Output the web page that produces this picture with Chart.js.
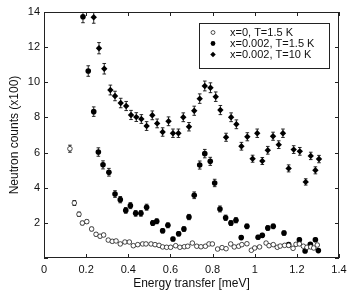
<!DOCTYPE html>
<html>
<head>
<meta charset="utf-8">
<script src="https://cdn.jsdelivr.net/npm/chart.js@4/dist/chart.umd.min.js"></script>
<style>
  html, body { margin: 0; padding: 0; background: #fff; }
  #wrap { width: 354px; height: 299px; }
</style>
</head>
<body>
<div id="wrap"><canvas id="countsChart"></canvas></div>
<script>
// x=0, T=1.5 K (open circles)
const openX = [0.123,0.144,0.166,0.182,0.203,0.226,0.247,0.266,0.283,0.305,0.324,0.342,0.362,0.384,0.405,0.424,0.445,0.468,0.484,0.508,
  0.527,0.546,0.563,0.582,0.601,0.625,0.645,0.666,0.682,0.704,0.725,0.745,0.766,0.783,0.799,0.824,0.845,0.864,0.886,0.903,
  0.924,0.939,0.963,0.984,1.0,1.023,1.054,1.068,1.088,1.107,1.121,1.142,1.161,1.182,1.196,1.212,1.231,1.248,1.266,1.28,1.297];
const openY = [6.22,3.13,2.49,1.99,2.07,1.65,1.35,1.24,1.31,1.02,0.95,0.97,0.80,0.91,0.91,0.70,0.76,0.80,0.80,0.80,
  0.76,0.72,0.63,0.61,0.61,0.70,0.61,0.64,0.67,0.85,0.67,0.64,0.67,0.80,0.80,0.51,0.59,0.53,0.80,0.63,
  0.67,0.76,0.81,0.44,0.57,0.63,0.85,0.70,0.76,0.61,0.68,0.72,0.72,0.55,0.78,0.80,0.67,0.61,0.63,0.57,0.74];
const openErr = [0.2,0.14,0.12,0.1,0.1,0.1,0.09,0.09,0.09,0.08,0.08,0.08,0.08,0.08,0.08,0.07,0.07,0.08,0.08,0.08,
  0.07,0.07,0.07,0.07,0.07,0.07,0.07,0.07,0.07,0.08,0.07,0.07,0.07,0.08,0.08,0.06,0.07,0.06,0.08,0.07,
  0.07,0.07,0.08,0.06,0.07,0.07,0.08,0.07,0.07,0.07,0.07,0.07,0.07,0.06,0.08,0.08,0.07,0.07,0.07,0.07,0.07];

// x=0.002, T=1.5 K (filled circles)
const fillX = [0.185,0.21,0.236,0.258,0.28,0.308,0.337,0.362,0.388,0.41,0.435,0.46,0.487,0.516,0.535,0.563,0.588,0.612,0.639,0.664,
  0.688,0.713,0.739,0.763,0.789,0.81,0.835,0.862,0.887,0.911,0.936,0.963,1.016,1.036,1.062,1.088,1.139,1.161,1.212,1.239,
  1.264,1.288,1.302];
const fillY = [13.73,10.64,8.33,6.03,5.3,4.88,3.64,3.32,2.71,2.98,2.54,2.54,2.89,1.99,2.09,1.55,1.86,1.08,1.38,1.65,
  2.33,3.57,5.29,5.94,5.5,4.27,2.79,2.29,1.99,2.15,1.16,1.8,1.18,1.29,1.71,1.8,1.42,0.76,1.04,0.4,
  0.78,1.04,0.42];
const fillErr = [0.34,0.3,0.27,0.24,0.23,0.22,0.19,0.18,0.16,0.17,0.16,0.16,0.17,0.14,0.14,0.12,0.14,0.1,0.12,0.13,
  0.15,0.19,0.23,0.24,0.23,0.21,0.17,0.15,0.14,0.15,0.11,0.13,0.11,0.11,0.13,0.13,0.12,0.09,0.1,0.06,
  0.09,0.1,0.06];

// x=0.002, T=10 K (diamonds)
const diaX = [0.236,0.261,0.286,0.315,0.337,0.364,0.39,0.413,0.438,0.462,0.487,0.514,0.537,0.563,0.591,0.612,0.638,0.661,0.688,0.713,
  0.739,0.763,0.79,0.815,0.837,0.864,0.888,0.913,0.937,0.965,0.99,1.012,1.036,1.062,1.087,1.114,1.134,1.161,1.185,1.214,
  1.242,1.266,1.288,1.305];
const diaY = [13.7,11.94,10.77,9.56,9.22,8.82,8.65,8.14,8.02,7.91,7.51,8.12,7.66,7.17,7.78,7.1,7.1,8.01,7.47,8.38,
  9.07,9.79,9.69,9.18,8.42,6.87,8.01,7.61,6.36,6.9,5.65,7.1,5.52,6.13,6.93,6.45,7.1,5.1,6.17,6.07,
  4.33,5.81,4.99,5.63];
const diaErr = [0.34,0.32,0.3,0.28,0.27,0.27,0.26,0.26,0.25,0.25,0.25,0.25,0.25,0.24,0.25,0.24,0.24,0.25,0.24,0.26,
  0.27,0.28,0.28,0.27,0.26,0.23,0.25,0.25,0.22,0.23,0.2,0.24,0.2,0.22,0.23,0.22,0.24,0.2,0.22,0.22,
  0.18,0.21,0.2,0.21];

const seriesLabels = ['x=0, T=1.5 K', 'x=0.002, T=1.5 K', 'x=0.002, T=10 K'];

const xTicks = [0, 0.2, 0.4, 0.6, 0.8, 1, 1.2, 1.4];
const yTicks = [0, 2, 4, 6, 8, 10, 12, 14];

const FONT = '"Liberation Sans", Arial, Helvetica, sans-serif';
Chart.defaults.font.family = FONT;
Chart.defaults.color = '#111';

function toPoints(xs, ys) {
    return xs.map((x, i) => ({ x: x, y: ys[i] }));
}

// vertical error bars with small caps
const errorBars = {
    id: 'errorBars',
    beforeDatasetsDraw(chart) {
        const ctx = chart.ctx;
        const yScale = chart.scales.y;
        const area = chart.chartArea;
        ctx.save();
        ctx.beginPath();
        ctx.rect(area.left, area.top, area.right - area.left, area.bottom - area.top);
        ctx.clip();
        ctx.strokeStyle = '#111';
        ctx.lineWidth = 0.9;
        chart.data.datasets.forEach((ds, di) => {
            const meta = chart.getDatasetMeta(di);
            ds.errors.forEach((e, i) => {
                const el = meta.data[i];
                const y1 = yScale.getPixelForValue(ds.data[i].y + e);
                const y2 = yScale.getPixelForValue(ds.data[i].y - e);
                ctx.beginPath();
                ctx.moveTo(el.x, y1); ctx.lineTo(el.x, y2);
                ctx.moveTo(el.x - 1.8, y1); ctx.lineTo(el.x + 1.8, y1);
                ctx.moveTo(el.x - 1.8, y2); ctx.lineTo(el.x + 1.8, y2);
                ctx.stroke();
            });
        });
        ctx.restore();
    }
};

// box around the plot, inward ticks on all four sides
const frame = {
    id: 'frame',
    afterDraw(chart) {
        const ctx = chart.ctx;
        const a = chart.chartArea;
        const xs = chart.scales.x, ys = chart.scales.y;
        const len = 4;
        ctx.save();
        ctx.strokeStyle = '#222';
        ctx.lineWidth = 1;
        ctx.strokeRect(a.left + 0.5, a.top + 0.5, a.right - a.left - 1, a.bottom - a.top - 1);
        ctx.beginPath();
        xTicks.forEach(v => {
            const px = Math.round(xs.getPixelForValue(v)) + 0.5;
            ctx.moveTo(px, a.bottom); ctx.lineTo(px, a.bottom - len);
            ctx.moveTo(px, a.top); ctx.lineTo(px, a.top + len);
        });
        yTicks.forEach(v => {
            const py = Math.round(ys.getPixelForValue(v)) + 0.5;
            ctx.moveTo(a.left, py); ctx.lineTo(a.left + len, py);
            ctx.moveTo(a.right, py); ctx.lineTo(a.right - len, py);
        });
        ctx.stroke();
        ctx.restore();
    }
};

// legend box in the upper right corner
const boxLegend = {
    id: 'boxLegend',
    afterDraw(chart) {
        const ctx = chart.ctx;
        const a = chart.chartArea;
        const right = a.right - 10, top = a.top + 11;
        const w = 130, h = 45;
        ctx.save();
        ctx.fillStyle = '#fff';
        ctx.fillRect(right - w, top, w, h);
        ctx.strokeStyle = '#222';
        ctx.lineWidth = 1;
        ctx.strokeRect(right - w + 0.5, top + 0.5, w, h);
        ctx.font = '11px ' + FONT;
        ctx.textBaseline = 'middle';
        chart.data.datasets.forEach((ds, i) => {
            const y = top + 9.5 + i * 11;
            const mx = right - w + 14;
            ctx.fillStyle = ds.backgroundColor;
            ctx.strokeStyle = ds.borderColor;
            ctx.lineWidth = ds.borderWidth;
            Chart.helpers.drawPoint(ctx, {
                pointStyle: ds.pointStyle,
                radius: ds.pointRadius * 0.85,
                borderWidth: ds.borderWidth,
                rotation: 0
            }, mx, y);
            ctx.fillStyle = '#111';
            ctx.fillText(ds.label, right - w + 31, y);
        });
        ctx.restore();
    }
};

const ctx = document.getElementById('countsChart').getContext('2d');
new Chart(ctx, {
    type: 'scatter',
    data: {
        datasets: [
            {
                label: seriesLabels[0],
                data: toPoints(openX, openY),
                errors: openErr,
                pointStyle: 'circle',
                pointRadius: 2.3,
                borderWidth: 0.8,
                borderColor: '#222',
                backgroundColor: '#fff'
            },
            {
                label: seriesLabels[1],
                data: toPoints(fillX, fillY),
                errors: fillErr,
                pointStyle: 'circle',
                pointRadius: 2.8,
                borderWidth: 0,
                borderColor: '#000',
                backgroundColor: '#000'
            },
            {
                label: seriesLabels[2],
                data: toPoints(diaX, diaY),
                errors: diaErr,
                pointStyle: 'rectRot',
                pointRadius: 3.2,
                borderWidth: 0,
                borderColor: '#000',
                backgroundColor: '#000'
            }
        ]
    },
    options: {
        responsive: true,
        maintainAspectRatio: false,
        animation: false,
        layout: { padding: { top: 12, right: 15, left: 0, bottom: 0 } },
        plugins: {
            legend: { display: false },
            tooltip: { enabled: false }
        },
        scales: {
            x: {
                type: 'linear',
                min: 0,
                max: 1.4,
                afterFit: s => { s.height = 41; },
                afterBuildTicks: s => { s.ticks = xTicks.map(v => ({ value: v })); },
                grid: { display: false, drawTicks: false },
                border: { display: false },
                ticks: {
                    padding: 5,
                    font: { size: 11 },
                    maxRotation: 0,
                    callback: v => String(Number(v.toFixed(1)))
                },
                title: {
                    display: true,
                    text: 'Energy transfer [meV]',
                    font: { size: 12 },
                    padding: { top: 0, bottom: 8 }
                }
            },
            y: {
                type: 'linear',
                min: 0,
                max: 14,
                afterFit: s => { s.width = 44; },
                afterBuildTicks: s => { s.ticks = yTicks.map(v => ({ value: v })); },
                grid: { display: false, drawTicks: false },
                border: { display: false },
                ticks: {
                    padding: 4,
                    font: { size: 11 },
                    callback: v => (v === 0 ? '' : String(v))
                },
                title: {
                    display: true,
                    text: 'Neutron counts (x100)',
                    font: { size: 12 },
                    padding: { top: 7, bottom: 0 }
                }
            }
        }
    },
    plugins: [errorBars, frame, boxLegend]
});
</script>
</body>
</html>
